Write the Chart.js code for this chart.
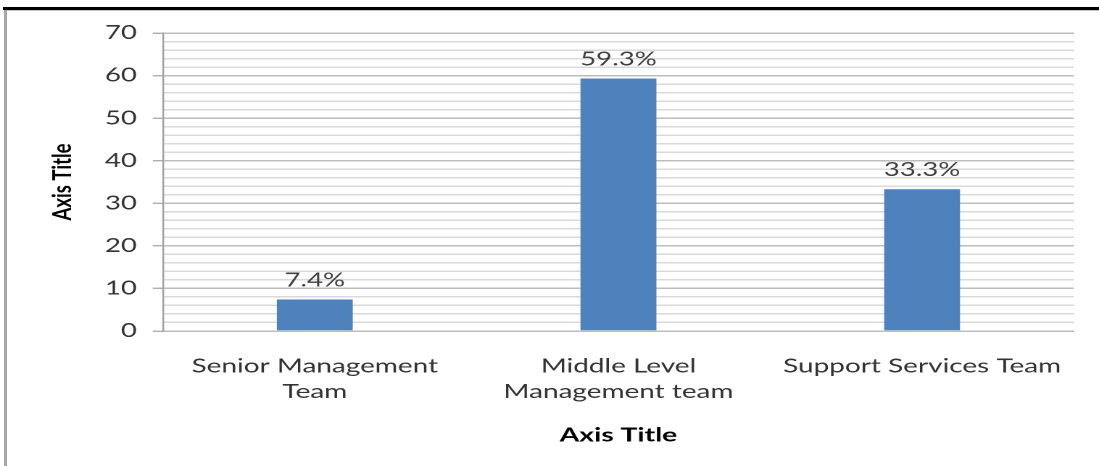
<!DOCTYPE html>
<html>
<head>
<meta charset="utf-8">
<script src="https://cdn.jsdelivr.net/npm/chart.js@4.4.1/dist/chart.umd.min.js"></script>
<style>
  html, body { margin: 0; padding: 0; background: #ffffff; }
  #wrap { position: relative; width: 1099px; height: 466px; overflow: hidden; background: #fff; }
  #c { position: absolute; left: 0; top: 0; }
  #frameTop { position: absolute; left: 3px; top: 7px; width: 1096px; height: 3px; background: #000; }
  #frameTopShade { position: absolute; left: 7px; top: 10px; width: 1092px; height: 1px; background: #c8c8c8; }
  #frameLeft { position: absolute; left: 4px; top: 10px; width: 3px; height: 456px; background: #a6a6a6; }
</style>
</head>
<body>
<div id="wrap">
  <canvas id="c" width="758" height="466" style="width:1099px;height:466px;"></canvas>
  <div id="frameTop"></div>
  <div id="frameTopShade"></div>
  <div id="frameLeft"></div>
</div>
<script>
// ---- data ----
const categories = [
  ['Senior Management', 'Team'],
  ['Middle Level', 'Management team'],
  'Support Services Team'
];
const percentages = [7.4, 59.3, 33.3];
const valueLabels = ['7.4%', '59.3%', '33.3%'];
const yMin = 0;
const yMax = 70;
const yMajorStep = 10;
const yMinorStep = 2;
const xAxisTitle = 'Axis Title';
const yAxisTitle = 'Axis Title';

// ---- styles ----
const FONT = "Lato, 'Open Sans', 'DejaVu Sans', sans-serif";
const barColor = '#4F81BD';
const textColor = '#333333';
const majorGrid = '#bdbdbd';
const minorGrid = '#d9d9d9';

const valueLabelPlugin = {
  id: 'valueLabels',
  afterDatasetsDraw(chart) {
    const ctx = chart.ctx;
    const meta = chart.getDatasetMeta(0);
    ctx.save();
    ctx.font = "19px " + FONT;
    ctx.fillStyle = '#404040';
    ctx.textAlign = 'center';
    ctx.textBaseline = 'alphabetic';
    meta.data.forEach((bar, i) => {
      ctx.fillText(valueLabels[i], bar.x, bar.y - 13);
    });
    ctx.restore();
  }
};

new Chart(document.getElementById('c'), {
  type: 'bar',
  data: {
    labels: categories,
    datasets: [{
      data: percentages,
      backgroundColor: barColor,
      borderWidth: 0,
      barPercentage: 0.25,
      categoryPercentage: 1.0
    }]
  },
  options: {
    responsive: false,
    devicePixelRatio: 2,
    animation: false,
    layout: { padding: { top: 33, right: 17.3, left: 0, bottom: 0 } },
    plugins: {
      legend: { display: false },
      tooltip: { enabled: false }
    },
    scales: {
      x: {
        offset: true,
        grid: { display: false, drawTicks: false },
        border: { display: true, color: majorGrid, width: 1.5 },
        ticks: {
          color: textColor,
          font: { family: FONT, size: 19.3, lineHeight: 1.33 },
          padding: 22.5,
          maxRotation: 0,
          autoSkip: false
        },
        title: {
          display: true,
          text: xAxisTitle,
          color: '#000',
          font: { family: FONT, size: 19.5, weight: 'bold', lineHeight: 1.2 },
          padding: { top: 0, bottom: 19 }
        },
        afterFit(scale) { scale.height = 135; }
      },
      y: {
        min: yMin,
        max: yMax,
        grid: {
          color: (c) => (c.tick && c.tick.value % yMajorStep === 0) ? majorGrid : minorGrid,
          lineWidth: 1.5,
          tickLength: 7,
          tickColor: (c) => (c.tick && c.tick.value % yMajorStep === 0) ? '#a0a0a0' : 'rgba(0,0,0,0)',
          tickWidth: 1.2
        },
        border: { display: true, color: '#a0a0a0', width: 1.2 },
        ticks: {
          stepSize: yMinorStep,
          autoSkip: false,
          color: textColor,
          font: { family: FONT, size: 19 },
          padding: 11,
          callback: (v) => (v % yMajorStep === 0 ? String(v) : '')
        },
        title: {
          display: true,
          text: yAxisTitle,
          color: '#000',
          font: { family: FONT, size: 18.5, weight: 'bold', lineHeight: 1.2 },
          padding: { top: 32, bottom: 0 }
        },
        afterFit(scale) { scale.width = 112.4; }
      }
    }
  },
  plugins: [valueLabelPlugin]
});
</script>
</body>
</html>
